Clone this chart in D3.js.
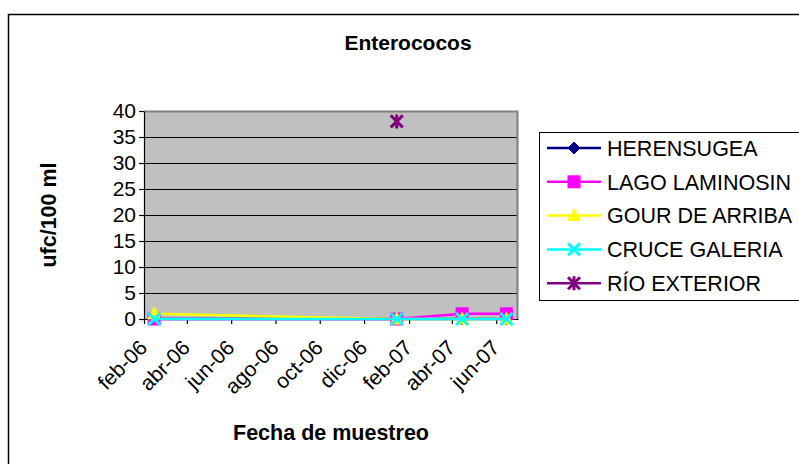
<!DOCTYPE html>
<html>
<head>
<meta charset="utf-8">
<script src="https://cdn.jsdelivr.net/npm/d3@7"></script>
<style>
	body { margin: 0; background: #fff; }
	text { font-family: Arial, "Liberation Sans", sans-serif; fill: #000; }
</style>
</head>
<body>
<svg id="chart"></svg>
<script>
// sampling dates and values (ufc/100 ml)
const dates			= ['2006-02-15', '2007-01-15', '2007-04-15', '2007-06-15'];
const herensugea	= [0, 0, 0, 0];
const lagoLaminosin	= [0, 0, 1, 1];
const gourDeArriba	= [1, 0, 0, 0];
const cruceGaleria	= [0, 0, 0, 0];
const rioExterior	= [null, 38, null, null];

const seriesNames	= ['HERENSUGEA', 'LAGO LAMINOSIN', 'GOUR DE ARRIBA', 'CRUCE GALERIA', 'RÍO EXTERIOR'];
const seriesValues	= [herensugea, lagoLaminosin, gourDeArriba, cruceGaleria, rioExterior];
const seriesColors	= ['#000080', '#ff00ff', '#ffff00', '#00ffff', '#800080'];
const seriesMarkers	= ['diamond', 'square', 'triangle', 'x', 'star'];

const yTicks		= [0, 5, 10, 15, 20, 25, 30, 35, 40];
const xTickDates	= ['2006-02-01', '2006-04-01', '2006-06-01', '2006-08-01', '2006-10-01', '2006-12-01', '2007-02-01', '2007-04-01', '2007-06-01'];
const xTickLabels	= ['feb-06', 'abr-06', 'jun-06', 'ago-06', 'oct-06', 'dic-06', 'feb-07', 'abr-07', 'jun-07'];
const xDomain		= ['2006-02-01', '2007-07-01'];

const parse		= d3.utcParse('%Y-%m-%d');
const W = 799, H = 464;
const plot = { left: 144, right: 518, top: 111, bottom: 319 };
const font = 'Arial, "Liberation Sans", sans-serif';

let svg = d3.select('#chart').attr('width', W).attr('height', H);

// chart frame
svg.append('rect')
	.attr('x', 8.5).attr('y', 14.5)
	.attr('width', 830).attr('height', 500)
	.attr('fill', '#fff').attr('stroke', '#000').attr('stroke-width', 1.5);

let x = d3.scaleUtc().domain(xDomain.map(parse)).range([plot.left, plot.right]);
let y = d3.scaleLinear().domain([0, 40]).range([plot.bottom, plot.top]);

// plot area
svg.append('rect')
	.attr('x', plot.left).attr('y', plot.top)
	.attr('width', plot.right - plot.left).attr('height', plot.bottom - plot.top)
	.attr('fill', '#c0c0c0');

svg.append('g').selectAll('line').data(yTicks.filter((o) => (o > 0 && o < 40))).enter()
	.append('line')
		.attr('x1', plot.left).attr('x2', plot.right)
		.attr('y1', (o) => (Math.round(y(o)) + .5)).attr('y2', (o) => (Math.round(y(o)) + .5))
		.attr('stroke', '#000').attr('stroke-width', 1);

svg.append('path')
	.attr('d', `M${plot.left},${plot.top + .5}H${plot.right - .5}V${plot.bottom}`)
	.attr('fill', 'none').attr('stroke', '#808080').attr('stroke-width', 2);

// axes
let yAxis = svg.append('g')
	.attr('transform', `translate(${plot.left},0)`)
	.call(d3.axisLeft(y).tickValues(yTicks).tickSize(5).tickPadding(3).tickSizeOuter(0));
yAxis.selectAll('text').attr('font-size', 21).attr('font-family', font);

let xAxis = svg.append('g')
	.attr('transform', `translate(0,${plot.bottom})`)
	.call(d3.axisBottom(x).tickValues(xTickDates.map(parse)).tickFormat((o, i) => (xTickLabels[i])).tickSize(5).tickSizeOuter(0));
xAxis.selectAll('text')
	.attr('font-size', 21).attr('font-family', font)
	.attr('text-anchor', 'end')
	.attr('dy', 0).attr('y', 0)
	.attr('transform', 'translate(4,30) rotate(-45)');

svg.selectAll('.domain, .tick line').attr('stroke', '#000').attr('stroke-width', 1.2);

// markers
function drawMarker(g, type, color) {
	if (type === 'diamond') {
		g.append('path').attr('d', 'M0,-6L6,0L0,6L-6,0Z').attr('fill', color).attr('stroke', color);
	} else if (type === 'square') {
		g.append('rect').attr('x', -6.5).attr('y', -6.5).attr('width', 13).attr('height', 13).attr('fill', color);
	} else if (type === 'triangle') {
		g.append('path').attr('d', 'M0,-7.5L7,5.5L-7,5.5Z').attr('fill', color);
	} else if (type === 'x') {
		g.append('path').attr('d', 'M-6,-6L6,6M-6,6L6,-6').attr('stroke', color).attr('stroke-width', 3);
	} else {
		g.append('path').attr('d', 'M-6,-6L6,6M-6,6L6,-6M0,-7V7').attr('stroke', color).attr('stroke-width', 3);
	}
}

let lineFunc = d3.line()
	.defined((o) => (o.v !== null))
	.x((o) => (x(o.d))).y((o) => (y(o.v)));

seriesValues.forEach((vals, s) => {
	let pts = vals.map((v, i) => ({ d: parse(dates[i]), v: v }));
	svg.append('path')
		.attr('d', lineFunc(pts))
		.attr('fill', 'none').attr('stroke', seriesColors[s]).attr('stroke-width', 2.5);
	pts.filter((o) => (o.v !== null)).forEach((o) => {
		let g = svg.append('g').attr('transform', `translate(${x(o.d)},${y(o.v)})`);
		drawMarker(g, seriesMarkers[s], seriesColors[s]);
	});
});

// titles
svg.append('text')
	.attr('x', 408).attr('y', 50)
	.attr('text-anchor', 'middle').attr('font-size', 21).attr('font-weight', 'bold')
	.text('Enterococos');

svg.append('text')
	.attr('transform', 'translate(56,215) rotate(-90)')
	.attr('text-anchor', 'middle').attr('font-size', 21.5).attr('font-weight', 'bold')
	.text('ufc/100 ml');

svg.append('text')
	.attr('x', (plot.left + plot.right) / 2).attr('y', 440)
	.attr('text-anchor', 'middle').attr('font-size', 21.5).attr('font-weight', 'bold')
	.text('Fecha de muestreo');

// legend
let legend = svg.append('g').attr('transform', 'translate(539,132)');
legend.append('rect')
	.attr('x', .5).attr('y', .5).attr('width', 300).attr('height', 168)
	.attr('fill', '#fff').attr('stroke', '#000').attr('stroke-width', 1);

let items = legend.selectAll('.item').data(seriesNames).enter()
	.append('g')
		.attr('class', 'item')
		.attr('transform', (o, i) => ('translate(0,' + (16 + i * 33.8) + ')'));

items.append('line')
	.attr('x1', 8).attr('x2', 62)
	.attr('stroke', (o, i) => (seriesColors[i])).attr('stroke-width', 2.5);

items.each(function (o, i) {
	let g = d3.select(this).append('g').attr('transform', 'translate(35,0)');
	drawMarker(g, seriesMarkers[i], seriesColors[i]);
});

items.append('text')
	.attr('x', 68).attr('dy', '0.36em')
	.attr('font-size', 21.5)
	.text((o) => (o));
</script>
</body>
</html>
